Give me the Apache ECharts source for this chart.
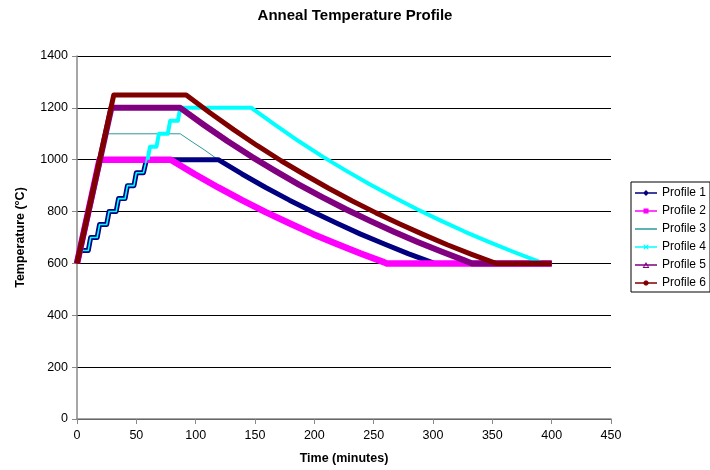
<!DOCTYPE html>
<html>
<head>
<meta charset="utf-8">
<script src="https://cdn.jsdelivr.net/npm/echarts@6/dist/echarts.min.js"></script>
<style>
  html, body { margin: 0; padding: 0; background: #ffffff; }
  #chart { width: 710px; height: 470px; }
</style>
</head>
<body>
<div id="chart"></div>
<script>
// Anneal profiles: [time in minutes, temperature in °C]
const profileNames = ['Profile 1', 'Profile 2', 'Profile 3', 'Profile 4', 'Profile 5', 'Profile 6'];

const profile1 = [[0,600],[2.5,650],[9.5,650],[11.5,700],[17,700],[19,750],[25,750],[27,800],[33,800],[35,850],[40.5,850],[42.5,900],[48,900],[50,950],[56,950],[58.5,1000],
  [119,1000],[139,945],[159,893],[179,844],[199,798],[219,755],[239,713],[259,675],[279,638],[299,604],[301,600],[400,600]];

const profile2 = [[0,600],[19,1000],[79,1000],[99,945],[119,893],[139,844],[159,798],[179,755],[199,713],[219,675],[239,638],[259,604],[261,600],[400,600]];

const profile3 = [[0,600],[24,1100],[87,1100],[97,1069],[107,1039],[119,1000],[139,945],[159,893],[179,844],[199,798],[219,755],[239,713],[259,675],[279,638],[299,604],[301,600],[400,600]];

const profile4 = [[0,600],[2.5,650],[9.5,650],[11.5,700],[17,700],[19,750],[25,750],[27,800],[33,800],[35,850],[40.5,850],[42.5,900],[48,900],[50,950],[56,950],[58.5,1000],[59.5,1000],
  [61.5,1050],[67,1050],[69,1100],[76.5,1100],[78.5,1150],[85,1150],[87,1200],
  [147,1200],[167,1134],[187,1071],[207,1012],[227,957],[247,904],[267,855],[287,808],[307,764],[327,722],[347,683],[367,646],[387,611],[393,600],[400,600]];

const profile5 = [[0,600],[29,1200],[87,1200],[107,1134],[127,1071],[147,1012],[167,957],[187,904],[207,855],[227,808],[247,764],[267,722],[287,683],[307,646],[327,611],[333,600],[400,600]];

const profile6 = [[0,600],[31,1250],[92,1250],[112,1181],[132,1116],[152,1054],[172,996],[192,942],[212,890],[232,841],[252,795],[272,752],[292,711],[312,672],[332,636],[353,600],[400,600]];

// Axis ranges
const xTicks = { min: 0, max: 450, step: 50 };
const yTicks = { min: 0, max: 1400, step: 200 };

const font = "'Liberation Sans', Arial, sans-serif";

// Legend glyphs: a short line with the marker of each profile
const legendLine = 'M0,5.2H26V6.8H0Z';
const legendIcons = [
  'path://' + legendLine + ' M13,2.5L16.5,6L13,9.5L9.5,6Z',
  'path://' + legendLine + ' M10,3H16V9H10Z',
  'path://' + legendLine + ' M0,2.5H0.01V9.5H0Z',
  'path://' + legendLine + ' M10,3H11L13,5L15,3H16V4L14,6L16,8V9H15L13,7L11,9H10V8L12,6L10,4Z',
  'path://' + legendLine + ' M13,2.5L17,9.5H9Z M13,5L10.8,8.5H15.2Z',
  'path://' + legendLine + ' M11.8,3H14.2L16,4.8V7.2L14.2,9H11.8L10,7.2V4.8Z'
];

function lineSeries(name, data, color, width, z) {
  return {
    name: name,
    type: 'line',
    z: z,
    data: data,
    symbol: 'none',
    showSymbol: false,
    lineStyle: { color: color, width: width, join: 'round' },
    itemStyle: { color: color },
    emphasis: { disabled: true }
  };
}

// Profile 4 shares its first steps with Profile 1; that stretch is drawn thin on top of it
const sharedSteps = 17;

const series = [
  lineSeries(profileNames[0], profile1, '#000080', 5, 2),
  lineSeries(profileNames[1], profile2, '#ff00ff', 6.5, 2),
  lineSeries(profileNames[2], profile3, '#2e9a9a', 1, 1),
  lineSeries(profileNames[3], profile4.slice(0, sharedSteps), '#00ffff', 1.6, 2),
  lineSeries(profileNames[3], profile4.slice(sharedSteps - 1), '#00ffff', 4, 2),
  lineSeries(profileNames[4], profile5, '#800080', 6, 2),
  lineSeries(profileNames[5], profile6, '#800000', 5, 2)
];

const chart = echarts.init(document.getElementById('chart'), null, { renderer: 'canvas' });

chart.setOption({
  animation: false,
  backgroundColor: '#ffffff',
  title: {
    text: 'Anneal Temperature Profile',
    left: 'center',
    top: 8,
    padding: 0,
    textStyle: { fontFamily: font, fontSize: 15, fontWeight: 'bold', color: '#000' }
  },
  grid: { left: 77, right: 99, top: 56, bottom: 49, containLabel: false },
  legend: {
    orient: 'vertical',
    left: 631,
    top: 182,
    padding: [5, 4, 3, 4],
    itemGap: 6,
    itemWidth: 22,
    itemHeight: 12,
    borderColor: '#000',
    borderWidth: 1,
    selectedMode: false,
    textStyle: { fontFamily: font, fontSize: 12, color: '#000' },
    data: profileNames.map((n, i) => ({ name: n, icon: legendIcons[i] }))
  },
  xAxis: {
    type: 'value',
    min: xTicks.min,
    max: xTicks.max,
    interval: xTicks.step,
    name: 'Time (minutes)',
    nameLocation: 'middle',
    nameGap: 33,
    nameTextStyle: { fontFamily: font, fontSize: 12.5, fontWeight: 'bold', color: '#000' },
    axisLine: { show: true, lineStyle: { color: '#888', width: 1.5 } },
    axisTick: { show: true, length: 5, lineStyle: { color: '#888' } },
    axisLabel: { fontFamily: font, fontSize: 12.5, color: '#000', margin: 10, formatter: v => String(v) },
    splitLine: { show: false }
  },
  yAxis: {
    type: 'value',
    min: yTicks.min,
    max: yTicks.max,
    interval: yTicks.step,
    name: 'Temperature (°C)',
    nameLocation: 'middle',
    nameRotate: 90,
    nameGap: 50,
    nameTextStyle: { fontFamily: font, fontSize: 12.5, fontWeight: 'bold', color: '#000' },
    axisLine: { show: true, lineStyle: { color: '#888', width: 1.5 } },
    axisTick: { show: true, length: 5, lineStyle: { color: '#888' } },
    axisLabel: { fontFamily: font, fontSize: 12.5, color: '#000', margin: 9, formatter: v => String(v) },
    splitLine: { show: true, lineStyle: { color: '#000', width: 1 } }
  },
  series: series
});
</script>
</body>
</html>
